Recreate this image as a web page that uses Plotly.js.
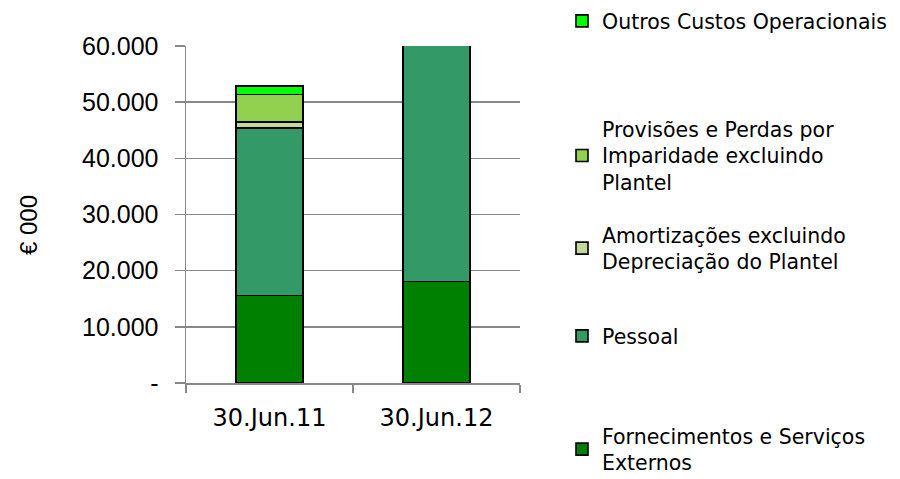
<!DOCTYPE html>
<html><head><meta charset="utf-8">
<script src="https://cdn.plot.ly/plotly-3.0.1.min.js"></script>
<style>html,body{margin:0;padding:0;background:#fff}#c{width:900px;height:479px}</style>
</head><body><div id="c"></div>
<script>
const categories = ["30.Jun.11", "30.Jun.12"];
const fornecimentos = [15600, 18100];
const pessoal = [29800, 44000];
const amortizacoes = [1100, 1100];
const provisoes = [4900, 1500];
const outros = [1500, 1500];
const yTickVals = [0, 10000, 20000, 30000, 40000, 50000, 60000];
const yTickText = ["-", "10.000", "20.000", "30.000", "40.000", "50.000", "60.000"];
const yTitle = "€ 000";
const names = [
  "Fornecimentos e Serviços<br>Externos",
  "Pessoal",
  "Amortizações excluindo<br>Depreciação do Plantel",
  "Provisões e Perdas por<br>Imparidade excluindo<br>Plantel",
  "Outros Custos Operacionais"
];
const colors = ["#008000", "#339966", "#C4D79B", "#92D050", "#00FF00"];
const series = [fornecimentos, pessoal, amortizacoes, provisoes, outros];
const legendTops = [437, 337, 236, 130, 22];

const T = 46, B = 383, L = 186, R = 520;
const H = B - T, W = R - L;
const legendIds = ["legend", "legend2", "legend3", "legend4", "legend5"];

const traces = series.map((s, i) => ({
  type: "bar", x: categories, y: s, name: names[i],
  marker: {color: colors[i], line: {color: "#000", width: 1.6}},
  legend: legendIds[i], hoverinfo: "skip"
}));

const layout = {
  width: 900, height: 479,
  margin: {l: L, r: 900 - R, t: T, b: 479 - B, autoexpand: false},
  barmode: "stack", bargap: 0.6,
  showlegend: true,
  paper_bgcolor: "#fff", plot_bgcolor: "#fff",
  font: {family: "Liberation Sans, Arial, sans-serif", size: 24, color: "#000"},
  xaxis: {
    type: "category", tickson: "boundaries", ticks: "outside", ticklen: 8,
    tickcolor: "#888", tickwidth: 1.5, showline: true, linecolor: "#888", linewidth: 1.5,
    showgrid: false, ticklabelstandoff: 13,
    tickfont: {family: "DejaVu Sans, sans-serif", size: 24}, fixedrange: true
  },
  yaxis: {
    range: [0, 60000], tickvals: yTickVals, ticktext: yTickText,
    ticks: "outside", ticklen: 10, tickcolor: "#888", tickwidth: 1.5,
    showline: true, linecolor: "#888", linewidth: 1.5,
    showgrid: true, gridcolor: "#888", gridwidth: 1.5, zeroline: false,
    ticklabelstandoff: 11,
    tickfont: {size: 25}, fixedrange: true
  },
  annotations: [{
    text: yTitle, xref: "paper", yref: "paper",
    x: (28 - L) / W, y: (B - 225) / H, xanchor: "center", yanchor: "middle",
    textangle: -90, showarrow: false, font: {size: 24}
  }]
};
legendIds.forEach((id, i) => {
  layout[id] = {
    xref: "container", yref: "container",
    x: 562 / 900, xanchor: "left",
    y: 1 - (legendTops[i] - 21) / 479, yanchor: "top",
    bgcolor: "rgba(0,0,0,0)",
    font: {family: "DejaVu Sans, sans-serif", size: 20.5, color: "#000"},
    itemwidth: 30, tracegroupgap: 0
  };
});

Plotly.newPlot("c", traces, layout, {displayModeBar: false, staticPlot: true});
</script>
</body></html>
